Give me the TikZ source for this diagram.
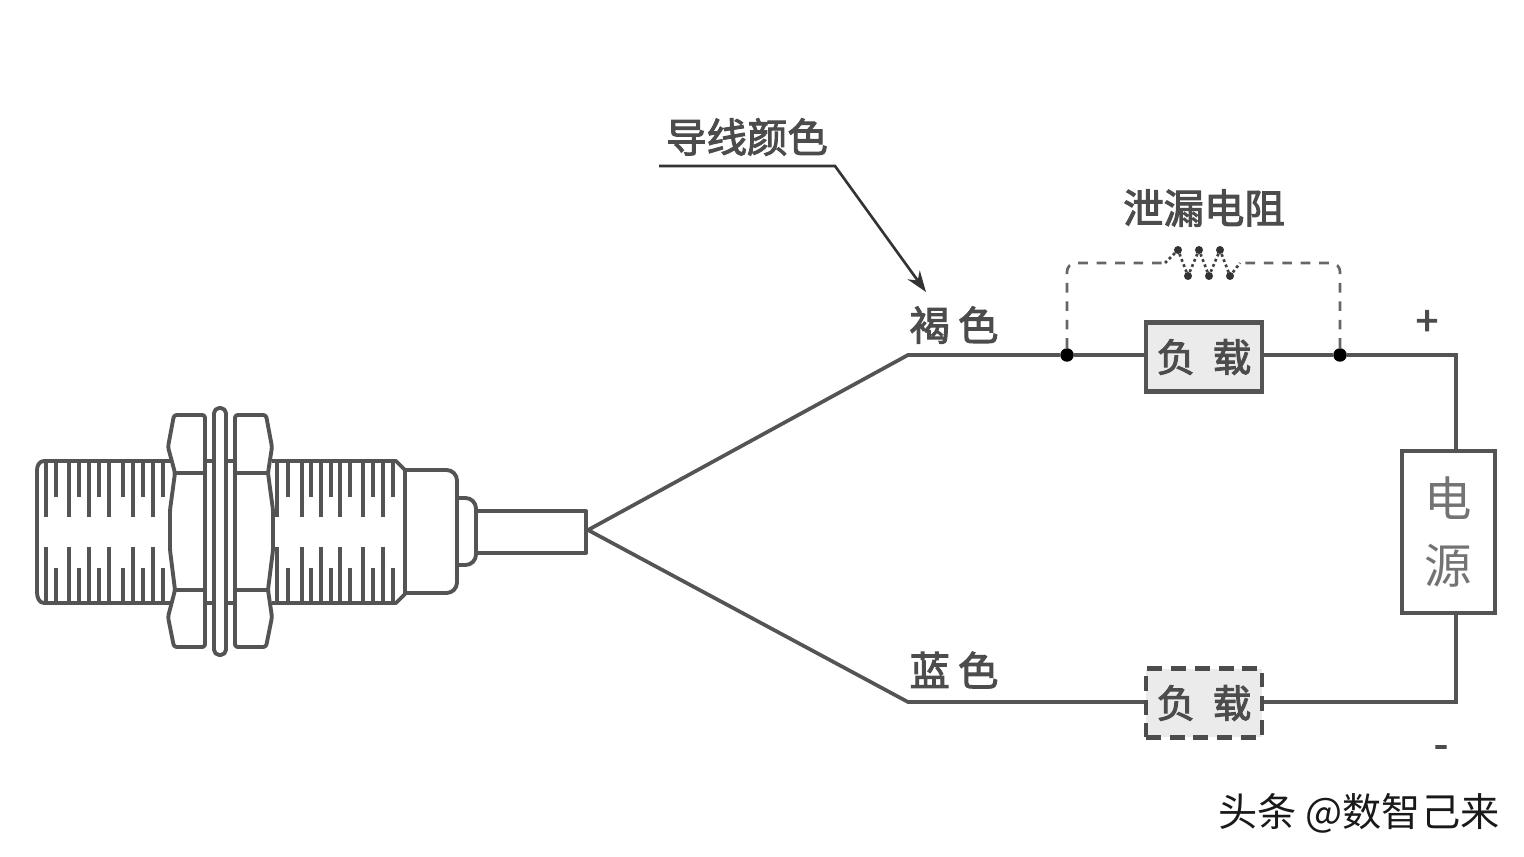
\documentclass[tikz,border=0pt]{standalone}
\usepackage{fontspec}
\setmainfont{Noto Sans CJK SC}
\newfontfamily\labelfont[FakeBold=2.5]{Noto Sans CJK SC}
\usetikzlibrary{arrows.meta}
\definecolor{linegray}{gray}{0.33}
\definecolor{textgray}{gray}{0.3}
\tikzset{
    wire/.style={draw=linegray, line width=2.1pt},
    part/.style={draw=linegray, line width=2.2pt, line join=round},
    tick/.style={draw=linegray, line width=2.4pt},
    label/.style={text=textgray, inner sep=0pt, font=\fontsize{23}{23}\labelfont},
    load/.style={draw=linegray, line width=2.4pt, fill=black!8, minimum width=2.32cm,
        minimum height=1.38cm, inner sep=0pt, text=textgray, font=\fontsize{22}{22}\labelfont},
    leak/.style={draw=black!60, line width=1.5pt, dash pattern=on 5.5pt off 5pt, rounded corners=5pt},
    junction/.style={circle, fill=black, inner sep=0pt, minimum size=0.27cm},
    rdot/.style={circle, fill=black!80, inner sep=0pt, minimum size=0.16cm}
}
\begin{document}
\begin{tikzpicture}[x=0.02cm, y=-0.02cm]
    \useasboundingbox (0,0) rectangle (1524,857);
    % threads
    \foreach \x in {46,69,89,109,133,153,277,302,321,340,363,383} {
        \draw[tick] (\x,460) -- (\x,517);
        \draw[tick] (\x,547) -- (\x,603);
    }
    \foreach \x in {56,79,99,123,143,163,288,311,331,350,373,393} {
        \draw[tick] (\x,460) -- (\x,497);
        \draw[tick] (\x,568) -- (\x,603);
    }
    \draw[part] (170,461) -- (44,461) to[out=180,in=90] (37,470) -- (37,592)
        to[out=270,in=180] (44,603) -- (170,603);
    \draw[part] (272,461) -- (396,461) -- (405,470) -- (405,594) -- (396,603) -- (272,603);
    % nuts
    \draw[part, fill=white, rounded corners=1.5pt] (174,415) -- (205,415) -- (205,647) -- (174,647) -- (168,617)
        -- (175,590) -- (170,550) -- (170,510) -- (175,473) -- (168,447) -- cycle;
    \draw[part] (175,473) -- (205,473) (175,590) -- (205,590);
    \draw[part, fill=white, rounded corners=1.5pt] (266,415) -- (235,415) -- (235,647) -- (266,647) -- (272,617)
        -- (268,590) -- (273,550) -- (273,510) -- (268,473) -- (272,447) -- cycle;
    \draw[part] (268,473) -- (235,473) (268,590) -- (235,590);
    \draw[part] (205,461) -- (235,461) (205,603) -- (235,603);
    \draw[part, fill=white, rounded corners=3pt] (214,408) rectangle (226,655);
    % cap and cable
    \draw[part, rounded corners=6pt] (405,470) -- (457,470) -- (457,593) -- (405,593);
    \draw[part, rounded corners=6pt] (457,498) -- (476,498) -- (476,565) -- (457,565);
    \draw[part] (476,511) -- (586,511) -- (586,553) -- (476,553);

    % wires
    \coordinate (fork) at (588,530);
    \coordinate (brownbend) at (908,355);
    \coordinate (bluebend) at (908,702);
    \coordinate (topright) at (1456,355);
    \coordinate (botright) at (1456,702);
    \node[load] (loadtop) at (1204,357) {负\hspace{0.45em}载};
    \node[load, dash pattern=on 8.5pt off 5pt, draw=black!70] (loadbot) at (1204,703) {负\hspace{0.45em}载};
    \node[draw=linegray, line width=2pt, minimum width=1.86cm, minimum height=3.24cm,
        inner sep=0pt, align=center, text=black!55, font=\fontsize{27}{38}\selectfont]
        (power) at (1448.5,532) {电\\源};
    \node[junction] (dotleft) at (1067,355) {};
    \node[junction] (dotright) at (1340,355) {};
    \draw[wire] (fork) -- (brownbend) -- (dotleft) -- (dotleft -| loadtop.west);
    \draw[wire] (dotright -| loadtop.east) -- (dotright) -- (topright) -- (power.north -| topright);
    \draw[wire] (fork) -- (bluebend) -- (bluebend -| loadbot.west);
    \draw[wire] (botright -| loadbot.east) -- (botright) -- (power.south -| botright);

    % leakage resistor
    \coordinate (resleft) at (1165,263);
    \coordinate (resright) at (1240,263);
    \draw[leak] (dotleft) -- (dotleft |- resleft) -- (resleft);
    \draw[leak] (dotright) -- (dotright |- resright) -- (resright);
    \draw[draw=black!75, line width=1.5pt, dash pattern=on 1.6pt off 1.6pt] (resleft) -- (1178,250) -- (1188,276)
        -- (1199,250) -- (1209,276) -- (1220,250) -- (1230,276) -- (resright);
    \foreach \x in {1178,1199,1220} {
        \node[rdot] at (\x,250) {};
        \node[rdot] at (\x+10,276) {};
    }

    % labels
    \node[label] (wirecolor) at (747,137) {导线颜色};
    \coordinate (ruleleft) at (659,166);
    \coordinate (ruleright) at (835,166);
    \coordinate (arrowend) at (926,292);
    \draw[draw=black!80, line width=1.5pt, -{Stealth[length=0.42cm, width=0.3cm]}]
        (ruleleft) -- (ruleright) -- (arrowend);
    \node[label] (brown) at (954,325) {褐\hspace{0.2em}色};
    \node[label] (blue) at (954,670) {蓝\hspace{0.2em}色};
    \node[label] (leakage) at (1204,208) {泄漏电阻};
    \node[label] (plus) at (1427,323) {+};
    \node[label] (minus) at (1441,752) {-};
    \node[inner sep=0pt, text=black!90, font=\fontsize{22.3}{22.3}\selectfont] (mark) at (1359,813) {头条 @数智己来};
\end{tikzpicture}
\end{document}
